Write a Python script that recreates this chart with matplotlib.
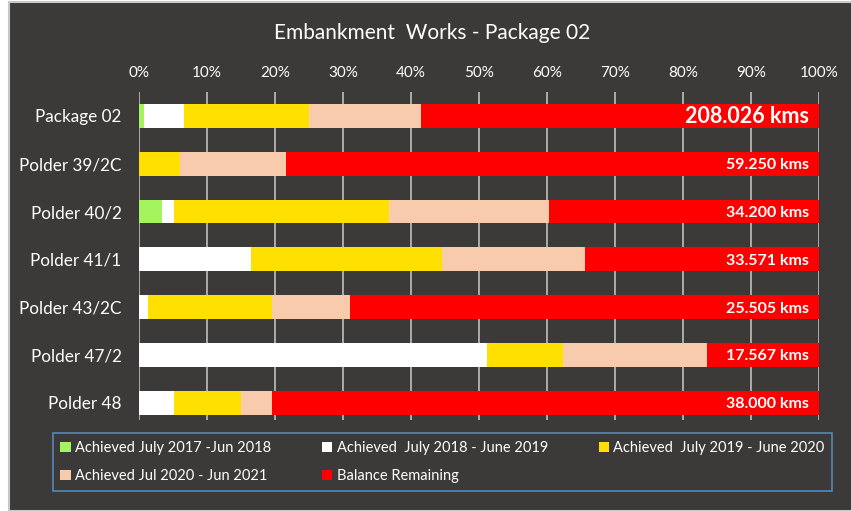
import matplotlib.pyplot as plt
import numpy as np
from matplotlib.patches import Rectangle

plt.rcParams['font.family'] = ['Lato', 'DejaVu Sans']

categories = ['Package 02', 'Polder 39/2C', 'Polder 40/2', 'Polder 41/1',
              'Polder 43/2C', 'Polder 47/2', 'Polder 48']
# share of each period in percent
ach_17_18 = [0.7, 0.0, 3.4, 0.0, 0.0, 0.0, 0.0]
ach_18_19 = [5.9, 0.0, 1.7, 16.4, 1.3, 51.2, 5.2]
ach_19_20 = [18.4, 6.0, 31.7, 28.1, 18.3, 11.2, 9.8]
ach_20_21 = [16.5, 15.6, 23.5, 21.1, 11.4, 21.1, 4.6]
balance = [58.5, 78.4, 39.7, 34.4, 69.0, 16.5, 80.4]
totals = ['208.026 kms', '59.250 kms', '34.200 kms', '33.571 kms',
          '25.505 kms', '17.567 kms', '38.000 kms']

series = [
    ('Achieved July 2017 -Jun 2018', ach_17_18, '#A3F45F'),
    ('Achieved  July 2018 - June 2019', ach_18_19, '#FFFFFF'),
    ('Achieved  July 2019 - June 2020', ach_19_20, '#FFE000'),
    ('Achieved Jul 2020 - Jun 2021', ach_20_21, '#F8CBAD'),
    ('Balance Remaining', balance, '#FF0000'),
]

bg = '#3B3A38'
W, H = 851, 511
fig = plt.figure(figsize=(8.51, 5.11), dpi=100, facecolor='white')
fig.patches.append(Rectangle((8.5 / W, 0), 1, 1 - 2.5 / H, transform=fig.transFigure,
                             facecolor=bg, edgecolor='#C8C8C8', linewidth=1.5, zorder=-5))

ax = fig.add_axes([139 / W, 1 - 420 / H, 680 / W, 328 / H])
ax.set_facecolor(bg)
y = np.arange(len(categories))
left = np.zeros(len(categories))
handles = []
for name, vals, col in series:
    h = ax.barh(y, vals, left=left, height=0.5, color=col, label=name, zorder=3)
    handles.append(h)
    left += np.array(vals)

for i, t in enumerate(totals):
    size = 15.5 if i == 0 else 11.5
    ax.text(98.5, y[i] + (0.03 if i else 0.02), t, ha='right', va='center', color='white',
            fontsize=size, fontweight='bold', zorder=4)

ax.set_xlim(0, 100)
ax.set_ylim(6.36, -0.5)
ax.set_xticks(np.arange(0, 101, 10))
ax.set_xticklabels([f'{v}%' for v in range(0, 101, 10)])
ax.set_yticks(y)
ax.set_yticklabels(categories)
ax.xaxis.tick_top()
ax.tick_params(axis='x', length=0, pad=9, labelsize=11, colors='white')
ax.tick_params(axis='y', length=0, pad=12.5, labelsize=12.3, colors='white')
ax.grid(axis='x', color='#BFBFBF', linewidth=1.2, zorder=1)
ax.set_axisbelow(True)
for s in ax.spines.values():
    s.set_visible(False)

fig.text(432 / W, 1 - 33 / H, 'Embankment  Works - Package 02', ha='center', va='center',
         color='white', fontsize=15)

# legend filled row by row
order = [0, 3, 1, 4, 2]
leg = fig.legend([handles[k] for k in order], [series[k][0] for k in order],
                 loc='center', bbox_to_anchor=(53 / W, 1 - 491 / H, 779 / W, 58 / H),
                 mode='expand', ncol=3, frameon=True, fontsize=10.5,
                 handlelength=0.7, handleheight=0.7, handletextpad=0.3,
                 labelcolor='white', borderpad=0.5, labelspacing=1.0, borderaxespad=0)
leg.get_frame().set_facecolor(bg)
leg.get_frame().set_edgecolor('#5B9BD5')
leg.get_frame().set_linewidth(1.2)
leg.get_frame().set_boxstyle('square', pad=0)

fig.savefig('out.png', dpi=100, facecolor=fig.get_facecolor())
